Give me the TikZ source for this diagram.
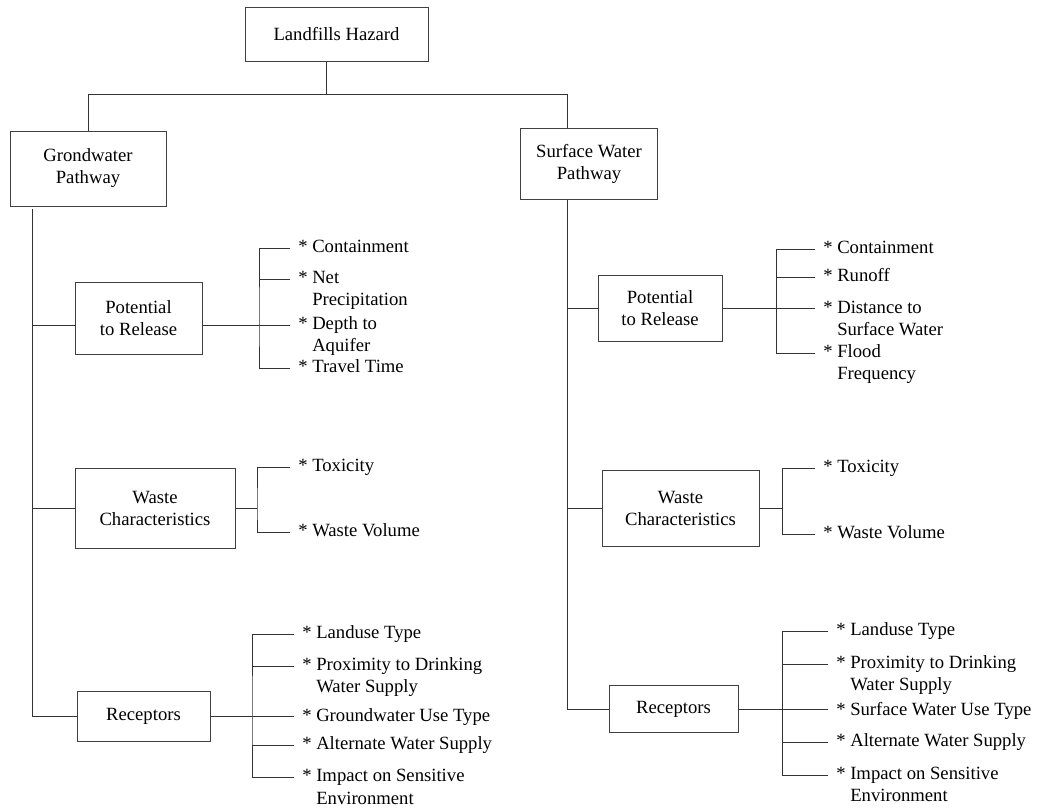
\documentclass[tikz,border=0pt]{standalone}
\usepackage{fontspec}
\setmainfont{Liberation Serif}
\tikzset{
  boxnode/.style={draw=black!75, line width=0.75pt, align=center, inner sep=2pt},
  leaf/.style={anchor=west, inner xsep=6pt, inner ysep=0pt, text height=0.9em, text depth=0.2em},
  link/.style={draw=black!80, line width=0.75pt}
}
\begin{document}
\begin{tikzpicture}[x=0.75pt,y=0.75pt,yscale=-1,xscale=1,font=\fontsize{14}{16.5}\selectfont]
\useasboundingbox (0,0) rectangle (1052,811);

%Shape: Rectangle
\node [boxnode, minimum width=137.25pt, minimum height=40.5pt] (haz) at (336.5,34) {Landfills Hazard};
\node [boxnode, minimum width=117pt, minimum height=56.25pt] (gwp) at (88,168.5) {Grondwater\\Pathway};
\node [boxnode, minimum width=102.75pt, minimum height=53.25pt] (swp) at (589,163.5) {Surface Water\\Pathway};

% left pathway
\node [boxnode, minimum width=95.25pt, minimum height=54pt] (gpr) at (138.5,318) {Potential\\to Release};
\node [boxnode, minimum width=120pt, minimum height=60pt] (gwc) at (155,508) {Waste\\Characteristics};
\node [boxnode, minimum width=99.75pt, minimum height=37.5pt] (grc) at (143.5,716) {Receptors};

% right pathway
\node [boxnode, minimum width=93pt, minimum height=49.5pt] (spr) at (660,308) {Potential\\to Release};
\node [boxnode, minimum width=117.75pt, minimum height=57pt] (swc) at (680.5,508) {Waste\\Characteristics};
\node [boxnode, minimum width=96.75pt, minimum height=35.25pt] (src) at (673.5,709) {Receptors};

% Text Node
\node [leaf] (gpr1) at (290,248) {* Containment};
\node [leaf] (gpr2) at (290,279) {* Net};
\node [leaf] (gpr2b) at (290,301) {\hphantom{* }Precipitation};
\node [leaf] (gpr3) at (290,325) {* Depth to};
\node [leaf] (gpr3b) at (290,347) {\hphantom{* }Aquifer};
\node [leaf] (gpr4) at (290,368) {* Travel Time};

\node [leaf] (gwc1) at (290,467) {* Toxicity};
\node [leaf] (gwc2) at (290,532) {* Waste Volume};

\node [leaf] (grc1) at (294,634) {* Landuse Type};
\node [leaf] (grc2) at (294,666) {* Proximity to Drinking};
\node [leaf] (grc2b) at (294,688) {\hphantom{* }Water Supply};
\node [leaf] (grc3) at (294,717) {* Groundwater Use Type};
\node [leaf] (grc4) at (294,745) {* Alternate Water Supply};
\node [leaf] (grc5) at (294,777) {* Impact on Sensitive};
\node [leaf] (grc5b) at (294,800) {\hphantom{* }Environment};

\node [leaf] (spr1) at (815,249) {* Containment};
\node [leaf] (spr2) at (815,277) {* Runoff};
\node [leaf] (spr3) at (815,309) {* Distance to};
\node [leaf] (spr3b) at (815,331) {\hphantom{* }Surface Water};
\node [leaf] (spr4) at (815,353) {* Flood};
\node [leaf] (spr4b) at (815,375) {\hphantom{* }Frequency};

\node [leaf] (swc1) at (815,468) {* Toxicity};
\node [leaf] (swc2) at (815,534) {* Waste Volume};

\node [leaf] (src1) at (828,631) {* Landuse Type};
\node [leaf] (src2) at (828,664) {* Proximity to Drinking};
\node [leaf] (src2b) at (828,686) {\hphantom{* }Water Supply};
\node [leaf] (src3) at (828,711) {* Surface Water Use Type};
\node [leaf] (src4) at (828,742) {* Alternate Water Supply};
\node [leaf] (src5) at (828,775) {* Impact on Sensitive};
\node [leaf] (src5b) at (828,797) {\hphantom{* }Environment};

% trunks
\coordinate (hazstem) at (326,94);
\coordinate (swtrunk) at (567,94);
\coordinate (gwtrunk) at (32,209);
\coordinate (gprin) at (75,325);

%Straight Lines
\draw [link] (haz.south -| hazstem) -- (hazstem);
\draw [link] (gwp.north) |- (swtrunk) -- (swtrunk |- swp.north);
\draw [link] (gwtrunk) |- (grc.west);
\draw [link] (gwtrunk |- gprin) -- (gprin);
\draw [link] (gwtrunk |- gwc.west) -- (gwc.west);
\draw [link] (swp.south -| swtrunk) |- (src.west);
\draw [link] (swtrunk |- spr.west) -- (spr.west);
\draw [link] (swtrunk |- swc.west) -- (swc.west);

% brackets, left
\coordinate (gprB) at (259,325);
\draw [link] (gpr1.west) -| (gprB) |- (gpr4.west);
\draw [link] (gprB |- gpr2.west) -- (gpr2.west);
\draw [link] (gprin -| gpr.east) -- (gpr3.west);

\coordinate (gwcB) at (257,508);
\draw [link] (gwc1.west) -| (gwcB) |- (gwc2.west);
\draw [link] (gwc.east) -- (gwcB);

\coordinate (grcB) at (252,716);
\draw [link] (grc1.west) -| (grcB) |- (grc5.west);
\draw [link] (grcB |- grc2.west) -- (grc2.west);
\draw [link] (grcB |- grc4.west) -- (grc4.west);
\draw [link] (grc.east) -- (grc3.west |- grc.east);

% brackets, right
\coordinate (sprB) at (776,309);
\draw [link] (spr1.west) -| (sprB) |- (spr4.west);
\draw [link] (sprB |- spr2.west) -- (spr2.west);
\draw [link] (spr.east) -- (spr3.west |- spr.east);

\coordinate (swcB) at (782,508);
\draw [link] (swc1.west) -| (swcB) |- (swc2.west);
\draw [link] (swc.east) -- (swcB);

\coordinate (srcB) at (782,709);
\draw [link] (src1.west) -| (srcB) |- (src5.west);
\draw [link] (srcB |- src2.west) -- (src2.west);
\draw [link] (srcB |- src4.west) -- (src4.west);
\draw [link] (src.east) -- (src3.west |- src.east);

\end{tikzpicture}
\end{document}
